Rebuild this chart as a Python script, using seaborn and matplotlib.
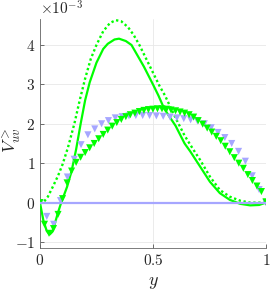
import numpy as np
import matplotlib
matplotlib.use("Agg")
import matplotlib.pyplot as plt
import seaborn as sns

# values in units of 1e-3
solid_y = [0, 0.015, 0.03, 0.043, 0.055, 0.065, 0.08, 0.094, 0.12, 0.14, 0.16, 0.18, 0.2, 0.22,
           0.25, 0.28, 0.3, 0.33, 0.35, 0.38, 0.405, 0.43, 0.46, 0.5, 0.524, 0.55, 0.6, 0.64,
           0.665, 0.708, 0.752, 0.796, 0.84, 0.885, 0.93, 0.97, 1.0]
solid_v = [0, -0.45, -0.72, -0.81, -0.74, -0.55, -0.25, 0.0, 0.4, 0.8, 1.35, 2.0, 2.6, 3.05,
           3.55, 3.9, 4.03, 4.14, 4.16, 4.1, 4.0, 3.75, 3.45, 3.0, 2.72, 2.38, 1.95, 1.5,
           1.3, 0.92, 0.53, 0.24, 0.07, -0.03, -0.07, -0.06, 0]

dot_y = [0, 0.015, 0.035, 0.055, 0.08, 0.1, 0.124, 0.153, 0.176, 0.2, 0.225, 0.25, 0.28, 0.31,
         0.336, 0.36, 0.39, 0.415, 0.44, 0.47, 0.5, 0.53, 0.553, 0.6, 0.64, 0.665, 0.686, 0.708,
         0.752, 0.796, 0.84, 0.885, 0.93, 1.0]
dot_v = [0, 0.0, 0.15, 0.38, 0.68, 0.97, 1.4, 2.02, 2.6, 3.15, 3.65, 4.0, 4.35, 4.56,
         4.63, 4.6, 4.45, 4.25, 4.0, 3.65, 3.3, 2.95, 2.72, 2.15, 1.7, 1.47, 1.28, 1.09,
         0.66, 0.32, 0.15, 0.05, 0.0, 0]

tri_g_y = np.linspace(0, 1, 51)
tri_g_v = [0, -0.55, -0.78, -0.66, -0.3, 0.1, 0.5, 0.8, 1.02, 1.15, 1.27, 1.39, 1.5, 1.62,
           1.73, 1.84, 1.94, 2.03, 2.11, 2.18, 2.23, 2.27, 2.31, 2.34, 2.36, 2.37, 2.38, 2.38,
           2.37, 2.35, 2.33, 2.3, 2.27, 2.23, 2.17, 2.08, 1.99, 1.89, 1.79, 1.68, 1.57, 1.43,
           1.29, 1.14, 1.0, 0.87, 0.71, 0.56, 0.42, 0.28, 0.02]

tri_b_y = np.linspace(0, 1, 34)
tri_b_v = [0, -0.35, -0.55, 0.05, 0.65, 1.1, 1.47, 1.72, 1.87, 2.0, 2.08, 2.15, 2.18, 2.2,
           2.21, 2.21, 2.21, 2.2, 2.19, 2.17, 2.15, 2.13, 2.1, 2.07, 2.0, 1.9, 1.78, 1.65,
           1.5, 1.3, 1.05, 0.68, 0.33, 0.0]

zero_y = [0, 1]
zero_v = [0, 0]

green = "#00ff00"
blue = "#a6a6ff"

sns.set_theme(style="white")
plt.rcParams["mathtext.fontset"] = "cm"
plt.rcParams["font.family"] = ["DejaVu Serif"]

fig = plt.figure(figsize=(2.7, 2.92), dpi=100)
ax = fig.add_axes([0.148, 0.151, 0.837, 0.784])

sns.lineplot(x=solid_y, y=solid_v, ax=ax, color=green, lw=1.6, sort=False, zorder=3)
sns.lineplot(x=dot_y, y=dot_v, ax=ax, color=green, lw=1.7, linestyle=(0, (1, 1.1)), sort=False, zorder=3)
sns.scatterplot(x=tri_b_y, y=tri_b_v, ax=ax, marker="v", s=26, color=blue, edgecolor="none", zorder=4)
sns.scatterplot(x=tri_g_y, y=tri_g_v, ax=ax, marker="v", s=26, color=green, edgecolor="none", zorder=5)
sns.lineplot(x=zero_y, y=zero_v, ax=ax, color=blue, lw=1.6, zorder=6)

ax.set_xlim(0, 1)
ax.set_ylim(-1.15, 4.66)
ax.set_xticks([0, 0.5, 1])
ax.set_xticklabels(["$0$", "$0.5$", "$1$"])
ax.set_yticks([-1, 0, 1, 2, 3, 4])
ax.set_yticklabels(["$-1$", "$0$", "$1$", "$2$", "$3$", "$4$"])
ax.grid(True, color="#e8e8e8", lw=0.6)
ax.tick_params(direction="in", length=3, width=0.6, colors="#555555", labelcolor="#262626",
               labelsize=11, left=True, bottom=True)
for s in ["top", "right"]:
    ax.spines[s].set_visible(False)
for s in ["left", "bottom"]:
    ax.spines[s].set_color("#666666")
    ax.spines[s].set_linewidth(0.6)

ax.set_xlabel("$y$", fontsize=13, color="#262626", labelpad=4)
ax.set_ylabel(r"$V^{>}_{uv}$", fontsize=13, color="#262626")
ax.yaxis.set_label_coords(-0.075, 0.47)
fig.text(0.148, 0.972, r"$\times 10^{-3}$", fontsize=11, color="#262626", va="center", ha="left")

fig.savefig("out.png", dpi=100)
